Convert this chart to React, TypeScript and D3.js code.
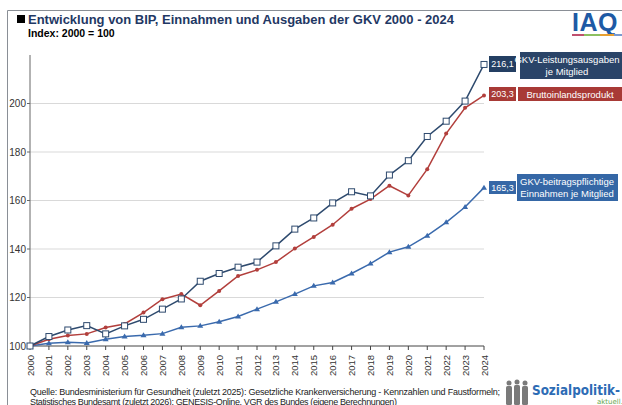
import { scaleLinear, line } from 'd3';

const years = [2000, 2001, 2002, 2003, 2004, 2005, 2006, 2007, 2008, 2009, 2010, 2011, 2012,
  2013, 2014, 2015, 2016, 2017, 2018, 2019, 2020, 2021, 2022, 2023, 2024];

const leistungsausgaben = [100, 103.9, 106.6, 108.4, 105, 108.3, 111, 115.2, 119.4, 126.7, 129.9, 132.5,
  134.6, 141.3, 148.2, 152.8, 159, 163.6, 161.9, 170.5, 176.4, 186.4, 192.7, 201, 216.1];
const bip = [100, 102.8, 104.3, 105, 107.6, 109.1, 113.8, 119.3, 121.4, 116.8, 122.7, 128.9,
  131.4, 134.6, 140.2, 145, 150, 156.6, 160.6, 166.1, 162.1, 172.9, 187.6, 198.2, 203.3];
const einnahmen = [100, 101.1, 101.5, 101.2, 102.8, 103.9, 104.4, 105.1, 107.7, 108.3, 110, 112.2,
  115.2, 118.2, 121.4, 124.8, 126.2, 129.9, 134, 138.7, 140.9, 145.5, 151, 157.3, 165.3];

const yTicks = [100, 120, 140, 160, 180, 200];

const W = 622;
const H = 405;
const left = 30;
const right = 484;
const top = 55;
const bottom = 346;

export default function App() {
  const x = scaleLinear().domain([2000, 2024]).range([left, right]);
  const y = scaleLinear().domain([100, 220]).range([bottom, top]);
  const mk = line<number>().x((_, i) => x(years[i])).y(d => y(d));

  const font = 'Arial, "Liberation Sans", sans-serif';
  const navy = '#2e4a6e';
  const red = '#b23f3c';
  const blue = '#3a6aad';

  const endLabel = (val: number, col: string, by: number, bh: number) => (
    <g>
      <rect x={489} y={by} width={27} height={bh} fill={col} />
      <text x={502.5} y={by + bh / 2 + 3.2} fontSize={9} fill="#fff" textAnchor="middle">
        {val.toFixed(1).replace('.', ',')}
      </text>
    </g>
  );

  return (
    <svg width={W} height={H} style={{ position: 'absolute', left: 0, top: 0, fontFamily: font }}>
      <rect width={W} height={H} fill="#fff" />
      <path d={`M7.5,${H} V10.5 H${W}`} fill="none" stroke="#8a8f96" strokeWidth={1} />

      {/* title */}
      <rect x={17} y={15} width={8} height={8} fill="#000" />
      <text x={28} y={24} fontSize={13.5} fontWeight="bold" fill="#1f3864" textLength={426} lengthAdjust="spacingAndGlyphs">
        Entwicklung von BIP, Einnahmen und Ausgaben der GKV 2000 - 2024
      </text>
      <text x={28} y={37} fontSize={10.5} fontWeight="bold" fill="#000">Index: 2000 = 100</text>

      {/* IAQ logo */}
      <text x={572} y={31} fontSize={25} fontWeight="bold" fill="#1e5aa5" letterSpacing={0.5}>IAQ</text>
      <rect x={572} y={34} width={12} height={2} fill="#c0506e" />
      <rect x={584} y={34} width={16} height={2} fill="#8cc060" />
      <rect x={600} y={34} width={14} height={2} fill="#e8a030" />
      <rect x={614} y={34} width={8} height={2} fill="#7a9ad0" />

      {/* grid */}
      {yTicks.filter(t => t > 100).map(t => (
        <line key={t} x1={left} x2={right} y1={y(t)} y2={y(t)} stroke="#d9d9d9" strokeWidth={1} />
      ))}
      {yTicks.map(t => (
        <g key={'yt' + t}>
          <line x1={left - 3} x2={left} y1={y(t)} y2={y(t)} stroke="#666" />
          <text x={left - 4} y={y(t) + 3.5} fontSize={10} fill="#333" textAnchor="end">{t}</text>
        </g>
      ))}
      <line x1={left} x2={left} y1={top} y2={bottom} stroke="#666" strokeWidth={1} />
      <line x1={left} x2={right} y1={bottom} y2={bottom} stroke="#444" strokeWidth={1} />
      {years.map(yr => (
        <g key={yr}>
          <line x1={x(yr)} x2={x(yr)} y1={bottom} y2={bottom + 4} stroke="#444" />
          <text transform={`translate(${x(yr) + 3.5},${bottom + 30}) rotate(-90)`} fontSize={9.5} fill="#333">
            {yr}
          </text>
        </g>
      ))}

      {/* lines */}
      <path d={mk(einnahmen) || ''} fill="none" stroke={blue} strokeWidth={1.5} />
      <path d={mk(bip) || ''} fill="none" stroke={red} strokeWidth={1.5} />
      <path d={mk(leistungsausgaben) || ''} fill="none" stroke={navy} strokeWidth={1.5} />

      {einnahmen.map((v, i) => (
        <path key={'e' + i} d={`M${x(years[i])},${y(v) - 3} l3,5 h-6 z`} fill={blue} />
      ))}
      {bip.map((v, i) => (
        <circle key={'b' + i} cx={x(years[i])} cy={y(v)} r={2} fill={red} />
      ))}
      {leistungsausgaben.map((v, i) => (
        <rect key={'l' + i} x={x(years[i]) - 3} y={y(v) - 3} width={6} height={6} fill="#fff" stroke={navy} strokeWidth={1} />
      ))}

      {/* end labels */}
      {endLabel(leistungsausgaben[24], '#243f63', 56, 16)}
      <rect x={520} y={52} width={102} height={27} fill="#2a4468" />
      <text x={567} y={63} fontSize={9.5} fill="#fff" textAnchor="middle">GKV-Leistungsausgaben</text>
      <text x={567} y={75} fontSize={9.5} fill="#fff" textAnchor="middle">je Mitglied</text>

      {endLabel(bip[24], '#a83a36', 87, 14)}
      <rect x={518} y={87} width={104} height={14} fill="#a83a36" />
      <text x={570} y={97.5} fontSize={9.5} fill="#fff" textAnchor="middle">Bruttoinlandsprodukt</text>

      {endLabel(einnahmen[24], '#3567a6', 181, 13)}
      <rect x={517} y={174} width={101} height={27} fill="#3567a6" />
      <text x={567} y={185} fontSize={9.5} fill="#fff" textAnchor="middle">GKV-beitragspflichtige</text>
      <text x={567} y={197} fontSize={9.5} fill="#fff" textAnchor="middle">Einnahmen je Mitglied</text>

      {/* source */}
      <text x={30} y={395} fontSize={9} fill="#222" textLength={470} lengthAdjust="spacing">
        Quelle: Bundesministerium für Gesundheit (zuletzt 2025): Gesetzliche Krankenversicherung - Kennzahlen und Faustformeln;
      </text>
      <text x={30} y={405} fontSize={9} fill="#222" textLength={367} lengthAdjust="spacing">
        Statistisches Bundesamt (zuletzt 2026): GENESIS-Online, VGR des Bundes (eigene Berechnungen)
      </text>

      {/* Sozialpolitik-aktuell logo */}
      <g fill="#7a7a7a">
        <circle cx={509} cy={383} r={2.5} />
        <rect x={506} y={386} width={6} height={19} rx={1.5} />
        <circle cx={517} cy={382} r={2.5} />
        <rect x={514} y={385} width={6} height={20} rx={1.5} />
        <circle cx={525} cy={383} r={2.5} />
        <rect x={522} y={386} width={6} height={19} rx={1.5} />
      </g>
      <text x={532} y={395} fontSize={14} fontWeight="bold" fill="#2d6cb5" fontFamily="DejaVu Sans, sans-serif"
        textLength={88} lengthAdjust="spacingAndGlyphs">
        Sozialpolitik-
      </text>
      <text x={597} y={404} fontSize={7} fill="#6aa84f" fontFamily="DejaVu Sans, sans-serif">aktuell.de</text>
    </svg>
  );
}
